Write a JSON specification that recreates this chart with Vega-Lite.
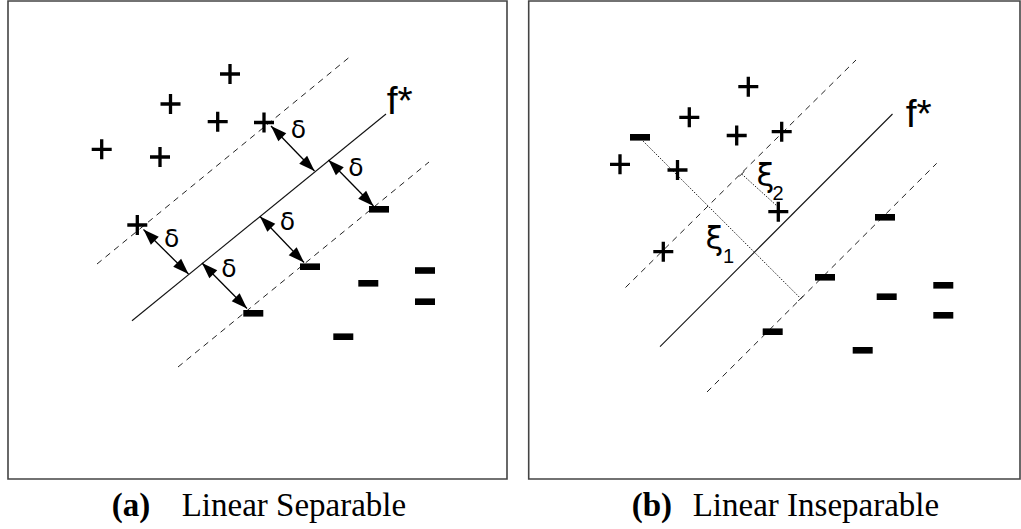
{
  "$schema": "https://vega.github.io/schema/vega-lite/v6.json",
  "width": 1021,
  "height": 529,
  "autosize": {"type": "fit", "contains": "padding"},
  "padding": 0,
  "background": "white",
  "config": {"view": {"stroke": null}},
  "datasets": {
    "frames": [
      {"panel": "a", "x": 8, "y": 1, "x2": 507, "y2": 479},
      {"panel": "b", "x": 528.7, "y": 1, "x2": 1020, "y2": 479}
    ],
    "boundary": [
      {"panel": "a", "x": 132, "y": 320.7, "x2": 386, "y2": 114},
      {"panel": "b", "x": 660, "y": 346.7, "x2": 892.5, "y2": 114}
    ],
    "margins": [
      {"panel": "a", "side": "positive", "x": 97, "y": 264, "x2": 349, "y2": 57.5},
      {"panel": "a", "side": "negative", "x": 178, "y": 367, "x2": 429, "y2": 162},
      {"panel": "b", "side": "positive", "x": 625.5, "y": 287.5, "x2": 856, "y2": 60},
      {"panel": "b", "side": "negative", "x": 707, "y": 392, "x2": 936.7, "y2": 163.3}
    ],
    "slacks": [
      {"name": "xi1", "x": 641, "y": 139, "x2": 800.7, "y2": 298.5},
      {"name": "xi2", "x": 741.7, "y": 174, "x2": 777, "y2": 206}
    ],
    "slackEnds": [
      {"name": "xi1", "x": 798.2, "y": 301, "x2": 803.2, "y2": 296},
      {"name": "xi2", "x": 739.2, "y": 176.5, "x2": 744.2, "y2": 171.5}
    ],
    "arrows": [
      {"x": 271, "y": 126, "x2": 314.5, "y2": 171},
      {"x": 328.5, "y": 160, "x2": 373.5, "y2": 206},
      {"x": 260, "y": 216.5, "x2": 304, "y2": 262.5},
      {"x": 143.5, "y": 229.5, "x2": 188.5, "y2": 274},
      {"x": 202, "y": 263, "x2": 247, "y2": 308.5}
    ],
    "positives": [
      {"panel": "a", "x": 230, "y": 74},
      {"panel": "a", "x": 170.5, "y": 104},
      {"panel": "a", "x": 217.7, "y": 121.7},
      {"panel": "a", "x": 264, "y": 122.5},
      {"panel": "a", "x": 101.7, "y": 149.3},
      {"panel": "a", "x": 160, "y": 157},
      {"panel": "a", "x": 137.3, "y": 225},
      {"panel": "b", "x": 748.3, "y": 86.7},
      {"panel": "b", "x": 689.3, "y": 117.3},
      {"panel": "b", "x": 736.7, "y": 135.5},
      {"panel": "b", "x": 781.7, "y": 131.7},
      {"panel": "b", "x": 620, "y": 164.3},
      {"panel": "b", "x": 677.5, "y": 170},
      {"panel": "b", "x": 778.3, "y": 211.7},
      {"panel": "b", "x": 663.3, "y": 251.7}
    ],
    "negatives": [
      {"panel": "a", "x": 379, "y": 209.3},
      {"panel": "a", "x": 310, "y": 266.7},
      {"panel": "a", "x": 253.3, "y": 313.3},
      {"panel": "a", "x": 368.3, "y": 283.3},
      {"panel": "a", "x": 425, "y": 270.5},
      {"panel": "a", "x": 425, "y": 301.7},
      {"panel": "a", "x": 343.3, "y": 336.7},
      {"panel": "b", "x": 640, "y": 137.3},
      {"panel": "b", "x": 885, "y": 217.3},
      {"panel": "b", "x": 825, "y": 277.3},
      {"panel": "b", "x": 886.7, "y": 296.7},
      {"panel": "b", "x": 943.3, "y": 285.3},
      {"panel": "b", "x": 943.3, "y": 315.3},
      {"panel": "b", "x": 772.7, "y": 331.7},
      {"panel": "b", "x": 862.7, "y": 350.3}
    ],
    "fstar": [
      {"panel": "a", "x": 386.7, "y": 113.5, "label": "f*"},
      {"panel": "b", "x": 905.7, "y": 126.5, "label": "f*"}
    ],
    "deltas": [
      {"x": 298.3, "y": 138.4, "label": "δ"},
      {"x": 356, "y": 175.7, "label": "δ"},
      {"x": 287.3, "y": 230, "label": "δ"},
      {"x": 171.7, "y": 246.7, "label": "δ"},
      {"x": 229, "y": 277.4, "label": "δ"}
    ],
    "xis": [
      {"x": 714.5, "y": 249, "label": "ξ"},
      {"x": 765.5, "y": 186, "label": "ξ"}
    ],
    "subscripts": [
      {"x": 728.5, "y": 263, "label": "1"},
      {"x": 778, "y": 200, "label": "2"}
    ],
    "tags": [
      {"x": 111.7, "y": 516, "label": "(a)"},
      {"x": 631.7, "y": 516, "label": "(b)"}
    ],
    "captions": [
      {"x": 181.7, "y": 516, "label": "Linear Separable"},
      {"x": 692.7, "y": 516, "label": "Linear Inseparable"}
    ]
  },
  "encoding": {
    "x": {"field": "x", "type": "quantitative", "scale": {"domain": [0, 1021], "nice": false, "zero": false}, "axis": null},
    "y": {"field": "y", "type": "quantitative", "scale": {"domain": [0, 529], "nice": false, "zero": false, "reverse": true}, "axis": null}
  },
  "layer": [
    {
      "data": {"name": "frames"},
      "mark": {"type": "rect", "fill": null, "filled": false, "stroke": "#444444", "strokeWidth": 1.6},
      "encoding": {"x2": {"field": "x2"}, "y2": {"field": "y2"}}
    },
    {
      "data": {"name": "boundary"},
      "mark": {"type": "rule", "color": "#111111", "strokeWidth": 1.1},
      "encoding": {"x2": {"field": "x2"}, "y2": {"field": "y2"}}
    },
    {
      "data": {"name": "margins"},
      "mark": {"type": "rule", "color": "#222222", "strokeWidth": 1, "strokeDash": [6, 5]},
      "encoding": {"x2": {"field": "x2"}, "y2": {"field": "y2"}}
    },
    {
      "data": {"name": "slacks"},
      "mark": {"type": "rule", "color": "#222222", "strokeWidth": 1, "strokeDash": [1.5, 1.5]},
      "encoding": {"x2": {"field": "x2"}, "y2": {"field": "y2"}}
    },
    {
      "data": {"name": "slackEnds"},
      "mark": {"type": "rule", "color": "#222222", "strokeWidth": 1},
      "encoding": {"x2": {"field": "x2"}, "y2": {"field": "y2"}}
    },
    {
      "data": {"name": "arrows"},
      "mark": {"type": "rule", "color": "#000000", "strokeWidth": 1.3},
      "encoding": {"x2": {"field": "x2"}, "y2": {"field": "y2"}}
    },
    {
      "data": {"name": "arrows"},
      "mark": {"type": "point", "shape": "M0,0L0.7,2L-0.7,2Z", "filled": true, "color": "#000000", "opacity": 1, "size": 256, "angle": 315, "strokeWidth": 0}
    },
    {
      "data": {"name": "arrows"},
      "mark": {"type": "point", "shape": "M0,0L0.7,2L-0.7,2Z", "filled": true, "color": "#000000", "opacity": 1, "size": 256, "angle": 135, "strokeWidth": 0},
      "encoding": {
        "x": {"field": "x2", "type": "quantitative"},
        "y": {"field": "y2", "type": "quantitative"}
      }
    },
    {
      "data": {"name": "positives"},
      "mark": {"type": "point", "shape": "M-1,0H1M0,-1V1", "filled": false, "color": "#000000", "opacity": 1, "size": 400, "strokeWidth": 3.3}
    },
    {
      "data": {"name": "negatives"},
      "mark": {"type": "point", "shape": "M-1,-0.33H1V0.33H-1Z", "filled": true, "color": "#000000", "opacity": 1, "size": 400, "strokeWidth": 0}
    },
    {
      "data": {"name": "fstar"},
      "mark": {"type": "text", "font": "Liberation Sans", "fontSize": 39, "align": "left", "baseline": "alphabetic", "color": "#000000"},
      "encoding": {"text": {"field": "label"}}
    },
    {
      "data": {"name": "deltas"},
      "mark": {"type": "text", "font": "DejaVu Sans", "fontSize": 25, "align": "center", "baseline": "alphabetic", "color": "#000000"},
      "encoding": {"text": {"field": "label"}}
    },
    {
      "data": {"name": "xis"},
      "mark": {"type": "text", "font": "DejaVu Sans", "fontSize": 32, "align": "center", "baseline": "alphabetic", "color": "#000000"},
      "encoding": {"text": {"field": "label"}}
    },
    {
      "data": {"name": "subscripts"},
      "mark": {"type": "text", "font": "Liberation Sans", "fontSize": 20, "align": "center", "baseline": "alphabetic", "color": "#000000"},
      "encoding": {"text": {"field": "label"}}
    },
    {
      "data": {"name": "tags"},
      "mark": {"type": "text", "font": "Liberation Serif", "fontSize": 33, "fontWeight": "bold", "align": "left", "baseline": "alphabetic", "color": "#000000"},
      "encoding": {"text": {"field": "label"}}
    },
    {
      "data": {"name": "captions"},
      "mark": {"type": "text", "font": "Liberation Serif", "fontSize": 33, "align": "left", "baseline": "alphabetic", "color": "#000000"},
      "encoding": {"text": {"field": "label"}}
    }
  ]
}
